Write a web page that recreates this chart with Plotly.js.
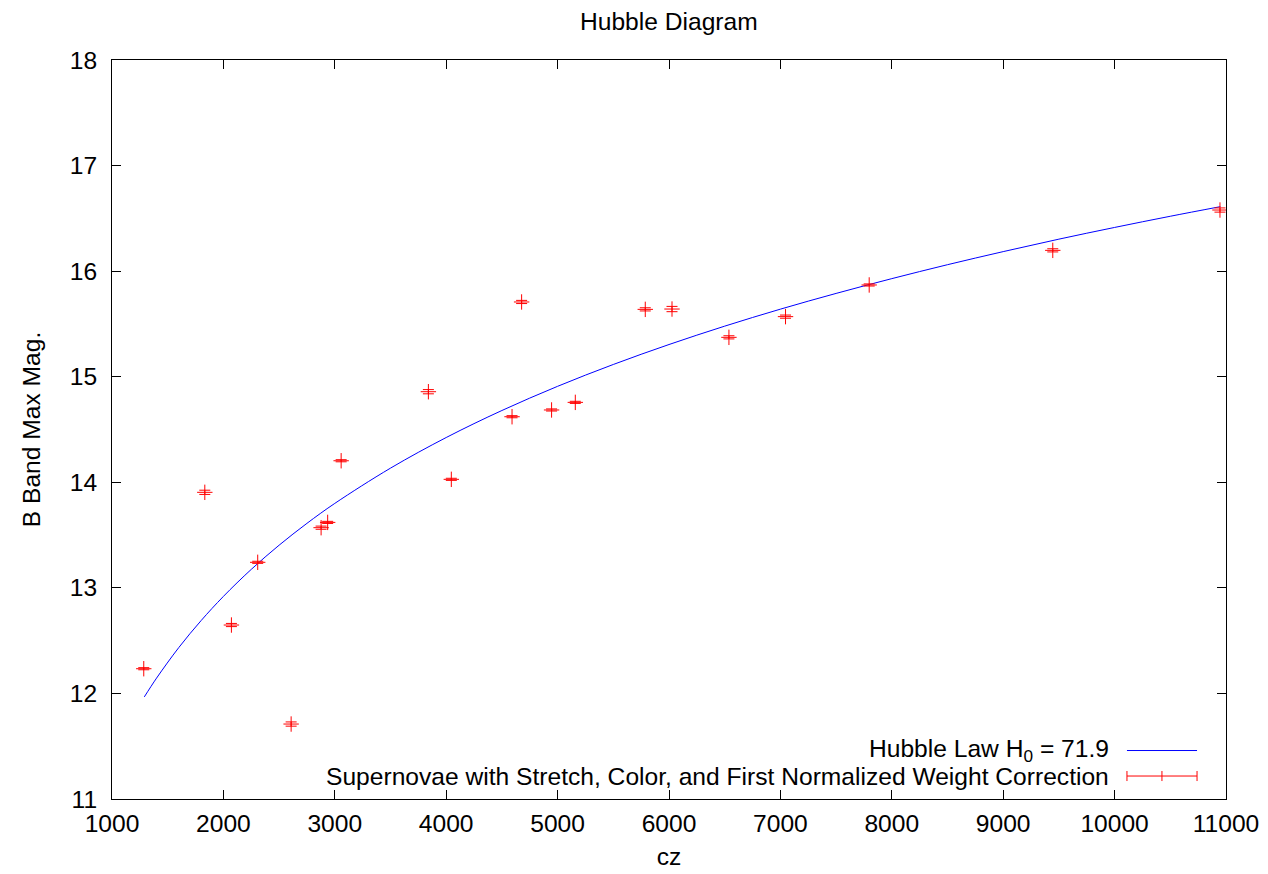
<!DOCTYPE html>
<html>
<head>
<meta charset="utf-8">
<script src="https://cdn.plot.ly/plotly-3.0.1.min.js"></script>
<style>
  html, body { margin: 0; padding: 0; background: #fff; }
  #chart { width: 1268px; height: 874px; }
</style>
</head>
<body>
<div id="chart"></div>
<script>
// Supernova sample: recession velocity cz (km/s), peak B magnitude, magnitude error
const cz = [1285, 1833, 2072, 2308, 2608, 2877, 2936, 3057, 3840, 4046, 4591,
            4677, 4946, 5159, 5787, 6027, 6538, 7046, 7797, 9445, 10946];
const bMag = [12.234, 13.905, 12.648, 13.242, 11.71, 13.57, 13.62, 14.204, 14.858, 14.028, 14.621,
              15.708, 14.685, 14.757, 15.638, 15.641, 15.373, 15.569, 15.869, 16.197, 16.579];
const bMagErr = [0.01, 0.02, 0.015, 0.01, 0.02, 0.015, 0.01, 0.01, 0.02, 0.01, 0.01,
                 0.015, 0.01, 0.01, 0.015, 0.025, 0.015, 0.015, 0.01, 0.015, 0.02];

// Fitted Hubble law (H0 = 71.9), sampled along cz
const fitCz = [1290, 1400, 1600, 1800, 2000, 2250, 2500, 2750, 3000, 3500, 4000, 4500, 5000,
               5500, 6000, 6500, 7000, 7500, 8000, 8500, 9000, 9500, 10000, 10500, 10950];
const fitMag = [11.967, 12.145, 12.435, 12.690, 12.919, 13.175, 13.404, 13.611, 13.800, 14.134,
                14.424, 14.680, 14.909, 15.116, 15.305, 15.479, 15.640, 15.789, 15.929, 16.061,
                16.185, 16.303, 16.414, 16.520, 16.611];

const xTicks = [1000, 2000, 3000, 4000, 5000, 6000, 7000, 8000, 9000, 10000, 11000];
const yTicks = [11, 12, 13, 14, 15, 16, 17, 18];

const fitLabel = 'Hubble Law H<sub>0</sub> = 71.9';
const snLabel = 'Supernovae with Stretch, Color, and First Normalized Weight Correction';

const FONT = 'Liberation Sans, Arial, sans-serif';
const FS = 24.6;

const traces = [
  {
    x: fitCz, y: fitMag, type: 'scatter', mode: 'lines',
    line: { color: '#0000ff', width: 1, shape: 'spline' },
    name: fitLabel, hoverinfo: 'skip'
  },
  {
    x: cz, y: bMag, type: 'scatter', mode: 'markers',
    marker: { symbol: 'cross-thin', size: 11, line: { color: '#ff0000', width: 1 }, color: '#ff0000' },
    error_y: { type: 'data', array: bMagErr, visible: true, color: '#ff0000', thickness: 1, width: 5.5 },
    name: snLabel
  }
];

// Key drawn gnuplot-style: right-aligned text with the sample to its right
const keyTextX = 0.8968, keyX0 = 0.9111, keyX1 = 0.974, keyXm = 0.9425;
const keyRow1 = 0.0656, keyRow2 = 0.0311, capH = 0.0068;

const axisCommon = {
  showline: true, linecolor: '#000', linewidth: 1, mirror: 'allticks',
  ticks: 'inside', ticklen: 9, tickwidth: 1, tickcolor: '#000',
  showgrid: false, zeroline: false,
  tickfont: { family: FONT, size: FS, color: '#000' }
};

const layout = {
  width: 1268, height: 874,
  paper_bgcolor: '#fff', plot_bgcolor: '#fff',
  margin: { l: 112, r: 42, t: 60, b: 75 },
  showlegend: false,
  title: { text: 'Hubble Diagram', font: { family: FONT, size: FS, color: '#000' },
           x: 0.5275, xanchor: 'center', y: 0.975, yanchor: 'middle' },
  xaxis: Object.assign({}, axisCommon, {
    range: [1000, 11000], tickvals: xTicks, ticktext: xTicks.map(String),
    ticklabelstandoff: 2,
    title: { text: 'cz', font: { family: FONT, size: FS, color: '#000' }, standoff: 12 }
  }),
  yaxis: Object.assign({}, axisCommon, {
    range: [11, 18], tickvals: yTicks, ticktext: yTicks.map(String),
    ticklabelstandoff: 9,
    title: { text: 'B Band Max Mag.', font: { family: FONT, size: FS, color: '#000' }, standoff: 22 }
  }),
  annotations: [
    { xref: 'paper', yref: 'paper', x: keyTextX, y: keyRow1, xanchor: 'right', yanchor: 'middle',
      text: fitLabel, showarrow: false, font: { family: FONT, size: FS, color: '#000' } },
    { xref: 'paper', yref: 'paper', x: keyTextX, y: keyRow2, xanchor: 'right', yanchor: 'middle',
      text: snLabel, showarrow: false, font: { family: FONT, size: FS, color: '#000' } }
  ],
  shapes: [
    { type: 'line', xref: 'paper', yref: 'paper', x0: keyX0, x1: keyX1, y0: keyRow1, y1: keyRow1,
      line: { color: '#0000ff', width: 1 } },
    { type: 'line', xref: 'paper', yref: 'paper', x0: keyX0, x1: keyX1, y0: keyRow2, y1: keyRow2,
      line: { color: '#ff0000', width: 1 } },
    { type: 'line', xref: 'paper', yref: 'paper', x0: keyX0, x1: keyX0, y0: keyRow2 - capH, y1: keyRow2 + capH,
      line: { color: '#ff0000', width: 1 } },
    { type: 'line', xref: 'paper', yref: 'paper', x0: keyX1, x1: keyX1, y0: keyRow2 - capH, y1: keyRow2 + capH,
      line: { color: '#ff0000', width: 1 } },
    { type: 'line', xref: 'paper', yref: 'paper', x0: keyXm, x1: keyXm, y0: keyRow2 - capH, y1: keyRow2 + capH,
      line: { color: '#ff0000', width: 1 } }
  ]
};

Plotly.newPlot('chart', traces, layout, { staticPlot: true, displayModeBar: false });
</script>
</body>
</html>
